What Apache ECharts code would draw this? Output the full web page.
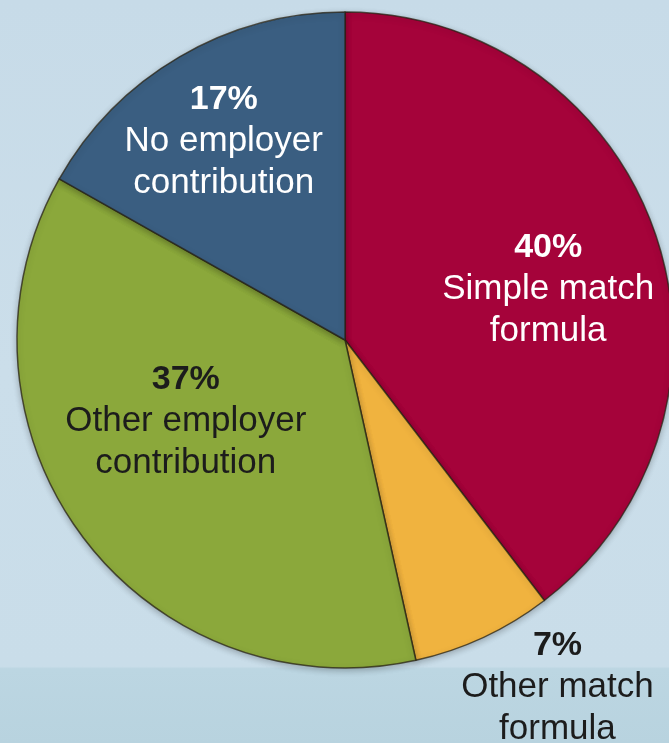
<!DOCTYPE html>
<html>
<head>
<meta charset="utf-8">
<script src="https://cdn.jsdelivr.net/npm/echarts@6/dist/echarts.min.js"></script>
<style>
  html, body { margin: 0; padding: 0; }
  #main { width: 669px; height: 743px; }
</style>
</head>
<body>
<div id="main"></div>
<script>
// slices, clockwise from 12 o'clock
var names = ['Simple match formula', 'Other match formula', 'Other employer contribution', 'No employer contribution']
var shares = [40, 7, 37, 17]
var lines = [
  ['Simple match', 'formula'],
  ['Other match', 'formula'],
  ['Other employer', 'contribution'],
  ['No employer', 'contribution']
]
var colors = ['#A5033A', '#F0B33F', '#8BA83B', '#3A5E81']
var textColors = ['#ffffff', '#1c1c1c', '#1c1c1c', '#ffffff']
// label nudges from the default inside spot
var labelShift = [[45, 3], [142, 196], [-25, -18], [-37, -54]]

var myChart = echarts.init(document.getElementById('main'))

var option = {
  backgroundColor: new echarts.graphic.LinearGradient(0, 0, 0, 1, [
    { offset: 0, color: '#C7DBE8' },
    { offset: 0.5, color: '#CBDEEA' },
    { offset: 0.897, color: '#C9DDE9' },
    { offset: 0.9, color: '#BCD6E2' },
    { offset: 1, color: '#B8D3DF' }
  ]),
  animation: false,
  series: [
    {
      type: 'pie',
      center: [345, 340],
      radius: 328,
      startAngle: 90,
      clockwise: true,
      avoidLabelOverlap: false,
      itemStyle: {
        borderColor: 'rgba(40, 35, 20, 0.75)',
        borderWidth: 1.5,
        shadowBlur: 6,
        shadowColor: 'rgba(0, 0, 0, 0.25)',
        shadowOffsetY: 2
      },
      label: {
        show: true,
        position: 'inside',
        fontFamily: 'Liberation Sans',
        fontSize: 35,
        lineHeight: 42,
        align: 'center'
      },
      labelLine: { show: false },
      labelLayout: function (params) {
        var s = labelShift[params.dataIndex]
        return { dx: s[0], dy: s[1] }
      },
      data: names.map(function (n, i) {
        return {
          name: n,
          value: shares[i],
          itemStyle: { color: colors[i] },
          label: {
            color: textColors[i],
            formatter: '{b|' + shares[i] + '%}\n' + lines[i].join('\n'),
            rich: {
              b: {
                fontFamily: 'Liberation Sans',
                fontWeight: 'bold',
                fontSize: 34,
                lineHeight: 42,
                color: textColors[i]
              }
            }
          }
        }
      })
    }
  ]
}

myChart.setOption(option)
</script>
</body>
</html>
